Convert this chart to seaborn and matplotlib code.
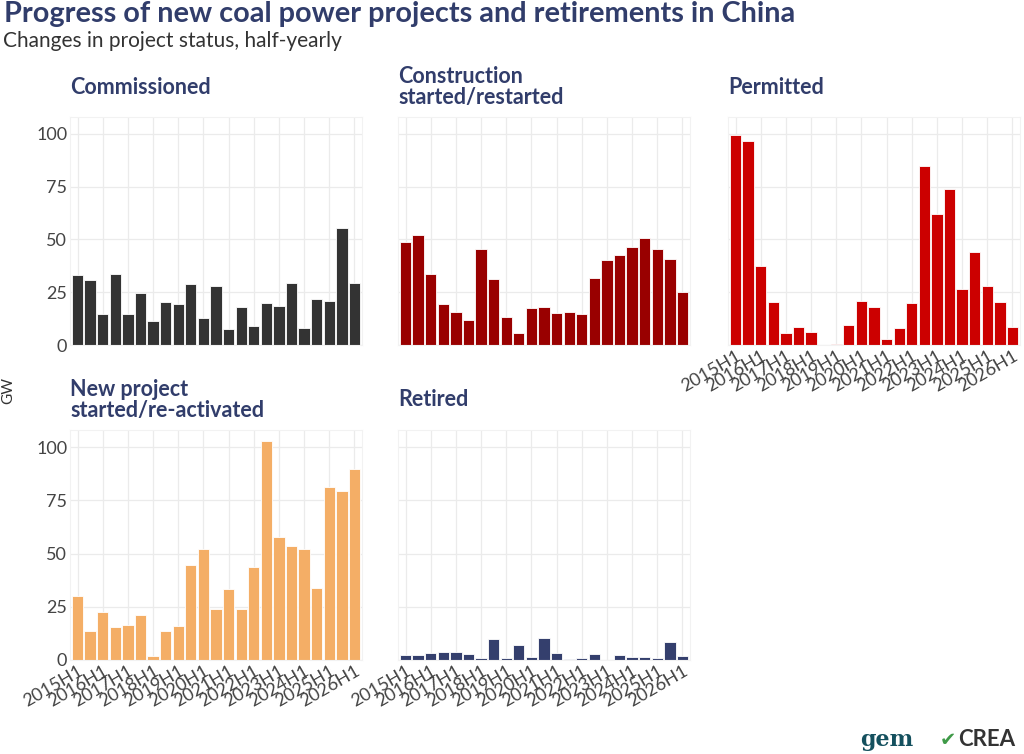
import matplotlib
matplotlib.use('Agg')
import matplotlib.pyplot as plt
import seaborn as sns
import pandas as pd

# Half-yearly periods shown on the x axis
periods = ['2015H1', '2015H2', '2016H1', '2016H2', '2017H1', '2017H2',
           '2018H1', '2018H2', '2019H1', '2019H2', '2020H1', '2020H2',
           '2021H1', '2021H2', '2022H1', '2022H2', '2023H1', '2023H2',
           '2024H1', '2024H2', '2025H1', '2025H2', '2026H1']

# GW per period
commissioned = [33.1, 31.0, 14.6, 33.7, 14.6, 24.5, 11.6, 20.4, 19.6, 29.0, 12.7, 28.0,
                7.8, 18.0, 8.9, 20.1, 18.4, 29.3, 8.2, 21.7, 21.0, 55.5, 29.6]
construction = [48.9, 52.1, 33.5, 19.5, 15.5, 12.0, 45.7, 31.2, 13.3, 5.9, 17.6, 17.9,
                15.2, 15.8, 14.9, 31.8, 40.3, 42.7, 46.4, 50.8, 45.7, 40.8, 25.3]
permitted = [99.7, 96.8, 37.3, 20.4, 5.5, 8.7, 6.0, 0.0, 0.6, 9.7, 21.0, 18.0,
             3.0, 8.2, 20.1, 84.8, 62.0, 73.9, 26.7, 44.0, 28.0, 20.4, 8.4]
new_project = [30.1, 13.6, 22.6, 15.5, 16.4, 21.3, 2.1, 13.7, 15.8, 44.6, 51.9, 24.0,
               33.4, 24.0, 43.5, 103.0, 57.9, 53.5, 52.1, 33.8, 81.1, 79.2, 89.6]
retired = [2.4, 2.4, 3.2, 3.7, 3.7, 2.9, 1.0, 10.0, 1.0, 7.1, 1.3, 10.5,
           3.2, 0.5, 0.8, 2.6, 0.2, 2.4, 1.6, 1.5, 0.8, 8.5, 2.1]

facet_titles = ['Commissioned', 'Construction\nstarted/restarted', 'Permitted',
                'New project\nstarted/re-activated', 'Retired']
facet_values = [commissioned, construction, permitted, new_project, retired]
facet_colors = ['#333333', '#990000', '#cc0000', '#f4ae66', '#343f6d']

NAVY = '#313d6b'

sns.set_theme(style='white')
plt.rcParams['font.family'] = ['Lato', 'DejaVu Sans']

W, H = 1024, 754
fig = plt.figure(figsize=(W / 100, H / 100), dpi=100)

# panel boxes in pixels: (left, top, right, bottom)
col_x = [(70, 362), (398, 690), (728, 1020)]
row_y = [(117, 345), (430, 660)]
layout = [(0, 0), (0, 1), (0, 2), (1, 0), (1, 1)]

for i, (r, c) in enumerate(layout):
    x0, x1 = col_x[c]
    y0, y1 = row_y[r]
    ax = fig.add_axes([x0 / W, 1 - y1 / H, (x1 - x0) / W, (y1 - y0) / H])
    df = pd.DataFrame({'period': periods, 'GW': facet_values[i]})
    sns.barplot(data=df, x='period', y='GW', color=facet_colors[i], saturation=1,
                width=0.9, edgecolor='white', linewidth=0.6, ax=ax)
    ax.set_xlim(-0.6, len(periods) - 0.4)
    ax.set_ylim(0, 108)
    ax.set_yticks([0, 25, 50, 75, 100])
    ax.set_xticks(range(0, len(periods), 2))
    ax.set_xticklabels(periods[::2])
    ax.grid(True, color='#ebebeb', linewidth=0.9)
    ax.set_axisbelow(True)
    for s in ax.spines.values():
        s.set_color('#f2f2f2')
        s.set_linewidth(0.8)
    ax.tick_params(length=0, labelsize=13, colors='#444444', pad=2)
    ax.set_xlabel('')
    ax.set_ylabel('')
    if c != 0:
        ax.set_yticklabels([])
    show_x = (r == 1) or (c == 2)
    if show_x:
        plt.setp(ax.get_xticklabels(), rotation=30, ha='right', rotation_mode='anchor')
    else:
        ax.set_xticklabels([])
    ax.text(0, 1 + 30 / (y1 - y0), facet_titles[i], transform=ax.transAxes,
            ha='left', va='center', fontsize=15.5, fontweight='bold', color=NAVY,
            linespacing=1.05)

fig.text(4 / W, 1 - 1 / H, 'Progress of new coal power projects and retirements in China',
         ha='left', va='top', fontsize=20.8, fontweight='bold', color=NAVY)
fig.text(3 / W, 1 - 31 / H, 'Changes in project status, half-yearly',
         ha='left', va='top', fontsize=15, color='#333333')
fig.text(8 / W, 1 - 390 / H, 'GW', rotation=90, ha='center', va='center',
         fontsize=11, color='#333333')

fig.text(860 / W, 1 - 740 / H, 'gem', ha='left', va='center', fontsize=16,
         fontweight='bold', color='#14505e', family='DejaVu Serif')
fig.text(940 / W, 1 - 740 / H, '✔', ha='left', va='center', fontsize=14,
         color='#3f9a48', family='DejaVu Sans')
fig.text(958 / W, 1 - 740 / H, 'CREA', ha='left', va='center', fontsize=16,
         fontweight='bold', color='#333333')

fig.savefig('out.png', dpi=100)
